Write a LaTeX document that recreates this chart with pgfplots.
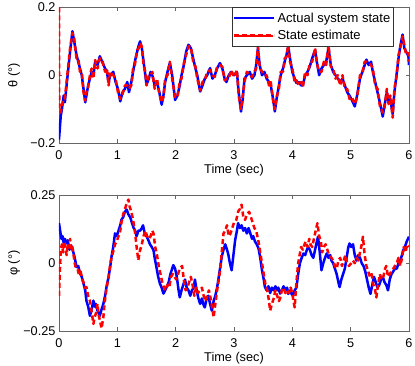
\documentclass[border=0pt]{standalone}
\usepackage{pgfplots}
\pgfplotsset{compat=1.18}
\usepackage{pgfplotstable}
\usepackage{fontspec}
\setmainfont{Liberation Sans}

\pgfplotstableread{
t y
0.00 -0.19
0.03 -0.12
0.05 -0.10
0.08 -0.06
0.10 -0.08
0.13 -0.03
0.16 0.02
0.19 0.07
0.23 0.13
0.26 0.10
0.30 0.06
0.33 0.04
0.36 0.02
0.39 0.00
0.42 -0.04
0.45 -0.08
0.48 -0.05
0.50 -0.03
0.53 -0.01
0.56 0.01
0.59 0.00
0.62 0.04
0.66 0.03
0.70 0.056
0.74 0.04
0.79 0.02
0.82 0.01
0.85 -0.02
0.88 0.00
0.93 0.01
0.97 -0.02
1.01 -0.04
1.05 -0.077
1.09 -0.05
1.13 -0.04
1.17 -0.02
1.20 -0.05
1.24 -0.02
1.27 0.01
1.30 0.04
1.34 0.07
1.37 0.09
1.39 0.10
1.42 0.08
1.45 0.04
1.48 0.00
1.50 -0.028
1.54 -0.01
1.57 0.01
1.60 0.00
1.64 -0.03
1.68 -0.02
1.72 -0.05
1.76 -0.087
1.79 -0.06
1.82 -0.02
1.86 0.01
1.90 0.036
1.94 0.00
1.99 -0.073
2.03 -0.06
2.07 -0.03
2.10 0.00
2.14 0.03
2.18 0.07
2.22 0.09
2.26 0.08
2.30 0.05
2.34 0.02
2.37 0.00
2.42 -0.048
2.46 -0.03
2.50 -0.01
2.54 0.00
2.59 0.021
2.63 -0.01
2.67 0.00
2.71 0.02
2.76 0.036
2.80 0.02
2.84 -0.01
2.87 -0.02
2.91 0.00
2.95 0.01
3.00 0.00
3.05 0.01
3.08 -0.05
3.12 -0.107
3.15 -0.07
3.18 -0.01
3.22 0.00
3.27 0.01
3.31 -0.01
3.35 0.00
3.38 0.03
3.41 0.08
3.44 0.03
3.48 0.00
3.52 0.01
3.56 -0.01
3.60 -0.02
3.63 -0.03
3.67 -0.07
3.70 -0.107
3.73 -0.07
3.77 -0.03
3.80 0.00
3.84 0.02
3.87 0.041
3.90 0.06
3.93 0.085
3.96 0.05
4.00 0.01
4.04 -0.01
4.07 -0.023
4.11 -0.02
4.15 -0.03
4.18 -0.03
4.22 0.00
4.26 0.01
4.30 0.026
4.34 0.05
4.39 0.075
4.42 0.04
4.46 0.00
4.50 0.02
4.54 0.03
4.58 0.04
4.62 0.08
4.66 0.03
4.70 0.01
4.74 0.00
4.78 -0.01
4.82 -0.02
4.86 -0.01
4.90 -0.03
4.94 -0.05
4.98 -0.06
5.02 -0.073
5.07 -0.092
5.11 -0.06
5.16 -0.01
5.20 0.01
5.24 0.03
5.27 0.046
5.31 0.03
5.35 0.04
5.38 0.01
5.42 -0.02
5.46 -0.05
5.50 -0.08
5.55 -0.122
5.58 -0.09
5.62 -0.05
5.65 -0.08
5.68 -0.07
5.72 -0.115
5.75 -0.05
5.79 0.007
5.82 0.05
5.85 0.085
5.89 0.12
5.92 0.08
5.95 0.07
5.99 0.056
6.00 0.03
}\thetaact

\pgfplotstableread{
t y
0.000 0.20
0.005 -0.10
0.03 -0.11
0.05 -0.09
0.08 -0.07
0.10 -0.07
0.13 -0.02
0.16 0.03
0.19 0.08
0.23 0.125
0.26 0.11
0.30 0.05
0.33 0.05
0.36 0.01
0.39 0.01
0.42 -0.05
0.45 -0.075
0.48 -0.04
0.50 -0.035
0.53 0.00
0.56 0.02
0.59 -0.01
0.62 0.045
0.66 0.02
0.70 0.05
0.74 0.045
0.79 0.01
0.82 0.02
0.85 -0.03
0.88 0.01
0.93 0.00
0.97 -0.01
1.01 -0.05
1.05 -0.07
1.09 -0.055
1.13 -0.03
1.17 -0.03
1.20 -0.04
1.24 -0.03
1.27 0.02
1.30 0.03
1.34 0.075
1.37 0.08
1.39 0.095
1.42 0.085
1.45 0.03
1.48 0.01
1.50 -0.03
1.54 0.00
1.57 0.00
1.60 0.01
1.64 -0.04
1.68 -0.01
1.72 -0.055
1.76 -0.08
1.79 -0.065
1.82 -0.01
1.86 0.00
1.90 0.04
1.94 -0.01
1.99 -0.065
2.03 -0.065
2.07 -0.02
2.10 -0.01
2.14 0.035
2.18 0.06
2.22 0.085
2.26 0.085
2.30 0.04
2.34 0.025
2.37 -0.01
2.42 -0.045
2.46 -0.02
2.50 -0.015
2.54 0.01
2.59 0.015
2.63 0.00
2.67 -0.005
2.71 0.025
2.76 0.03
2.80 0.025
2.84 -0.015
2.87 -0.01
2.91 -0.01
2.95 0.015
3.00 -0.005
3.05 0.015
3.08 -0.06
3.12 -0.10
3.15 -0.06
3.18 -0.02
3.22 0.01
3.27 0.00
3.31 -0.005
3.35 0.01
3.38 0.02
3.41 0.085
3.44 0.025
3.48 0.01
3.52 0.00
3.56 0.00
3.60 -0.03
3.63 -0.02
3.67 -0.075
3.70 -0.10
3.73 -0.065
3.77 -0.04
3.80 0.01
3.84 0.01
3.87 0.05
3.90 0.055
3.93 0.09
3.96 0.04
4.00 0.02
4.04 -0.02
4.07 -0.015
4.11 -0.03
4.15 -0.02
4.18 -0.035
4.22 0.01
4.26 0.00
4.30 0.035
4.34 0.04
4.39 0.08
4.42 0.035
4.46 0.01
4.50 0.01
4.54 0.04
4.58 0.03
4.62 0.09
4.66 0.025
4.70 0.02
4.74 -0.01
4.78 0.00
4.82 -0.03
4.86 0.00
4.90 -0.04
4.94 -0.04
4.98 -0.07
5.02 -0.065
5.07 -0.085
5.11 -0.065
5.16 0.00
5.20 0.005
5.24 0.04
5.27 0.04
5.31 0.035
5.35 0.03
5.38 0.02
5.42 -0.03
5.46 -0.04
5.50 -0.09
5.55 -0.11
5.58 -0.095
5.62 -0.04
5.65 -0.085
5.68 -0.06
5.72 -0.125
5.75 -0.04
5.79 0.00
5.82 0.06
5.85 0.08
5.89 0.115
5.92 0.09
5.95 0.06
5.99 0.065
6.00 0.04
}\thetaest

\pgfplotstableread{
t y
0.00 0.148
0.02 0.12
0.04 0.09
0.06 0.10
0.08 0.075
0.10 0.09
0.13 0.073
0.15 0.085
0.18 0.05
0.21 0.065
0.25 0.037
0.27 0.02
0.30 -0.014
0.33 -0.01
0.36 -0.037
0.39 -0.05
0.42 -0.075
0.45 -0.10
0.47 -0.138
0.50 -0.16
0.53 -0.194
0.56 -0.17
0.59 -0.138
0.61 -0.16
0.63 -0.15
0.66 -0.175
0.70 -0.194
0.73 -0.17
0.76 -0.15
0.79 -0.12
0.82 -0.08
0.85 -0.051
0.88 -0.01
0.90 0.024
0.93 0.06
0.96 0.11
0.99 0.10
1.02 0.12
1.05 0.14
1.07 0.16
1.10 0.17
1.13 0.19
1.16 0.198
1.19 0.18
1.22 0.17
1.25 0.15
1.28 0.13
1.30 0.123
1.33 0.10
1.36 0.12
1.39 0.12
1.42 0.13
1.44 0.14
1.47 0.11
1.50 0.10
1.53 0.086
1.56 0.07
1.59 0.06
1.62 0.048
1.64 0.02
1.67 -0.014
1.70 -0.05
1.73 -0.075
1.76 -0.09
1.79 -0.112
1.82 -0.10
1.85 -0.085
1.88 -0.07
1.91 -0.04
1.94 -0.02
1.96 -0.007
1.99 -0.02
2.02 -0.05
2.05 -0.10
2.07 -0.126
2.10 -0.10
2.13 -0.08
2.16 -0.06
2.19 -0.09
2.22 -0.10
2.25 -0.12
2.28 -0.10
2.31 -0.09
2.33 -0.06
2.36 -0.10
2.39 -0.13
2.42 -0.15
2.45 -0.13
2.48 -0.155
2.50 -0.163
2.53 -0.13
2.56 -0.12
2.59 -0.15
2.62 -0.175
2.65 -0.14
2.68 -0.12
2.71 -0.09
2.73 -0.063
2.76 -0.02
2.79 0.024
2.82 0.05
2.85 0.07
2.88 0.05
2.90 0.035
2.93 0.00
2.96 -0.026
2.99 0.03
3.02 0.086
3.05 0.12
3.07 0.148
3.10 0.13
3.13 0.14
3.16 0.12
3.19 0.13
3.22 0.11
3.25 0.13
3.28 0.11
3.31 0.09
3.33 0.10
3.36 0.08
3.39 0.07
3.42 0.055
3.45 0.02
3.48 -0.026
3.51 -0.06
3.53 -0.088
3.56 -0.10
3.59 -0.085
3.62 -0.11
3.65 -0.09
3.68 -0.10
3.71 -0.085
3.74 -0.10
3.76 -0.09
3.79 -0.112
3.82 -0.10
3.85 -0.085
3.88 -0.10
3.91 -0.09
3.93 -0.113
3.96 -0.10
3.99 -0.115
4.01 -0.12
4.04 -0.10
4.07 -0.09
4.10 -0.04
4.13 0.00
4.16 0.02
4.19 0.036
4.22 0.03
4.25 0.05
4.27 0.06
4.30 0.05
4.33 0.03
4.36 0.02
4.39 0.05
4.42 0.08
4.44 0.098
4.47 0.04
4.50 -0.026
4.53 0.00
4.56 0.02
4.59 0.036
4.62 0.02
4.65 0.03
4.67 0.01
4.70 0.00
4.73 -0.02
4.76 -0.04
4.79 -0.07
4.81 -0.088
4.84 -0.06
4.87 -0.04
4.90 -0.02
4.93 0.02
4.96 0.06
4.98 0.073
5.01 0.06
5.04 0.07
5.07 0.03
5.10 0.01
5.13 0.03
5.16 0.02
5.19 0.00
5.22 -0.01
5.25 -0.03
5.28 -0.06
5.31 -0.09
5.34 -0.113
5.37 -0.08
5.40 -0.05
5.43 -0.07
5.46 -0.09
5.49 -0.08
5.52 -0.06
5.55 -0.05
5.58 -0.07
5.61 -0.08
5.64 -0.10
5.67 -0.06
5.70 -0.04
5.73 -0.03
5.76 -0.02
5.79 -0.02
5.82 0.00
5.85 0.01
5.88 0.03
5.90 0.048
5.93 0.06
5.96 0.08
6.00 0.098
}\phiact

\pgfplotstableread{
t y
0.00 -0.12
0.01 -0.06
0.02 0.00
0.03 0.05
0.05 0.07
0.07 0.04
0.09 0.08
0.11 0.06
0.13 0.03
0.15 0.07
0.17 0.06
0.19 0.09
0.21 0.05
0.23 0.06
0.25 0.03
0.27 0.00
0.29 -0.02
0.32 -0.023
0.34 -0.04
0.37 -0.03
0.40 -0.06
0.42 -0.07
0.44 -0.09
0.47 -0.088
0.50 -0.12
0.53 -0.138
0.56 -0.18
0.59 -0.224
0.61 -0.20
0.64 -0.18
0.66 -0.15
0.68 -0.19
0.71 -0.22
0.73 -0.24
0.76 -0.20
0.78 -0.15
0.81 -0.10
0.85 -0.05
0.88 0.00
0.91 0.03
0.94 0.05
0.96 0.07
0.99 0.08
1.02 0.10
1.05 0.12
1.07 0.15
1.10 0.18
1.13 0.20
1.16 0.22
1.19 0.235
1.21 0.21
1.24 0.19
1.27 0.16
1.30 0.12
1.33 0.061
1.36 0.011
1.38 0.04
1.42 0.07
1.45 0.10
1.48 0.12
1.51 0.10
1.54 0.09
1.57 0.10
1.60 0.12
1.62 0.11
1.65 0.06
1.68 0.03
1.71 -0.01
1.74 -0.04
1.77 -0.07
1.80 -0.09
1.83 -0.10
1.86 -0.08
1.89 -0.09
1.92 -0.05
1.95 -0.04
1.98 -0.05
2.01 -0.06
2.04 -0.04
2.07 -0.02
2.11 -0.01
2.14 -0.06
2.17 -0.10
2.20 -0.09
2.23 -0.07
2.26 -0.05
2.29 -0.08
2.32 -0.12
2.35 -0.09
2.38 -0.11
2.42 -0.10
2.45 -0.09
2.48 -0.12
2.51 -0.14
2.54 -0.12
2.57 -0.10
2.60 -0.13
2.63 -0.17
2.65 -0.20
2.68 -0.15
2.71 -0.10
2.74 -0.06
2.76 -0.03
2.79 0.04
2.82 0.11
2.85 0.12
2.88 0.14
2.91 0.10
2.94 0.11
2.97 0.13
3.00 0.15
3.04 0.16
3.07 0.19
3.10 0.20
3.13 0.216
3.16 0.17
3.19 0.16
3.22 0.18
3.26 0.19
3.29 0.17
3.32 0.15
3.35 0.13
3.38 0.12
3.42 0.08
3.45 0.04
3.48 0.00
3.51 -0.04
3.54 -0.08
3.57 -0.10
3.60 -0.14
3.62 -0.175
3.65 -0.15
3.68 -0.13
3.71 -0.10
3.74 -0.12
3.77 -0.14
3.79 -0.13
3.82 -0.10
3.85 -0.09
3.88 -0.11
3.91 -0.10
3.94 -0.11
3.97 -0.09
4.00 -0.11
4.02 -0.14
4.04 -0.163
4.07 -0.07
4.10 0.00
4.13 0.036
4.15 0.06
4.18 0.05
4.21 0.07
4.23 0.08
4.26 0.06
4.29 0.09
4.31 0.07
4.34 0.06
4.37 0.09
4.40 0.12
4.43 0.148
4.46 0.10
4.49 0.08
4.51 0.04
4.54 0.06
4.57 0.07
4.60 0.05
4.63 0.03
4.67 0.02
4.70 0.01
4.73 -0.01
4.76 -0.02
4.79 0.01
4.82 0.02
4.85 -0.01
4.88 0.01
4.91 0.03
4.94 0.00
4.97 -0.01
5.01 0.00
5.04 0.01
5.07 0.00
5.10 0.02
5.13 0.01
5.16 0.04
5.19 0.07
5.21 0.098
5.24 0.03
5.27 -0.01
5.30 -0.03
5.33 -0.05
5.36 -0.04
5.39 -0.08
5.42 -0.10
5.44 -0.126
5.47 -0.08
5.50 -0.04
5.53 -0.06
5.56 -0.05
5.59 -0.02
5.61 -0.01
5.64 -0.05
5.67 -0.04
5.70 -0.03
5.73 -0.02
5.76 -0.01
5.79 0.00
5.82 0.02
5.85 -0.01
5.88 0.02
5.91 0.06
5.94 0.04
5.97 0.07
6.00 0.06
}\phiest

\pgfplotsset{
  myaxis/.style={
    scale only axis,
    width=350pt,
    height=135.5pt,
    xmin=0, xmax=6,
    xtick={0,1,2,3,4,5,6},
    xticklabels={0,1,2,3,4,5,6},
    tick align=inside,
    major tick length=3.5pt,
    axis line style={black!60, line width=0.5pt},
    every tick/.style={black!60, line width=0.5pt},
    tick label style={font=\fontsize{12.7}{14}\selectfont},
    label style={font=\fontsize{12.7}{14}\selectfont},
    xticklabel style={anchor=center, yshift=-12pt},
    yticklabel style={anchor=east},
    xlabel={Time (sec)},
    xlabel style={at={(axis description cs:0.5,0)}, anchor=center, yshift=-27pt},
    ylabel style={at={(axis description cs:-0.1286,0.5)}, anchor=center},
    clip=true,
  },
  actual/.style={blue, line width=2.5pt, line join=round},
  estimate/.style={red, line width=2.5pt, line join=round, dash pattern=on 5pt off 3pt},
}

\begin{document}
\begin{tikzpicture}
\useasboundingbox (0pt,0pt) rectangle (415pt,366pt);
\begin{axis}[myaxis,
  at={(59pt,223pt)}, anchor=south west,
  ymin=-0.2, ymax=0.2,
  ytick={-0.2,0,0.2},
  yticklabels={−0.2,0,0.2},
  ylabel={θ (°)},
  legend style={at={(1,1)}, anchor=north east, xshift=-15.5pt,
    draw=black!80, line width=0.5pt, fill=white,
    font=\fontsize{13}{15}\selectfont,
    inner xsep=1pt, inner ysep=3pt, row sep=2.5pt},
  legend cell align=left,
  legend image code/.code={\path (0pt,0pt) -- (40pt,0pt);\draw[#1, line width=1.8pt] (5pt,0pt) -- (39pt,0pt);},
]
\addplot[actual] table[x=t,y=y] {\thetaact};
\addlegendentry{Actual system state}
\addplot[estimate] table[x=t,y=y] {\thetaest};
\addlegendentry{State estimate}
\end{axis}

\begin{axis}[myaxis,
  at={(59pt,35pt)}, anchor=south west,
  ymin=-0.25, ymax=0.25,
  ytick={-0.25,0,0.25},
  yticklabels={−0.25,0,0.25},
  ylabel={φ (°)},
]
\addplot[actual] table[x=t,y=y] {\phiact};
\addplot[estimate] table[x=t,y=y] {\phiest};
\end{axis}
\end{tikzpicture}
\end{document}
